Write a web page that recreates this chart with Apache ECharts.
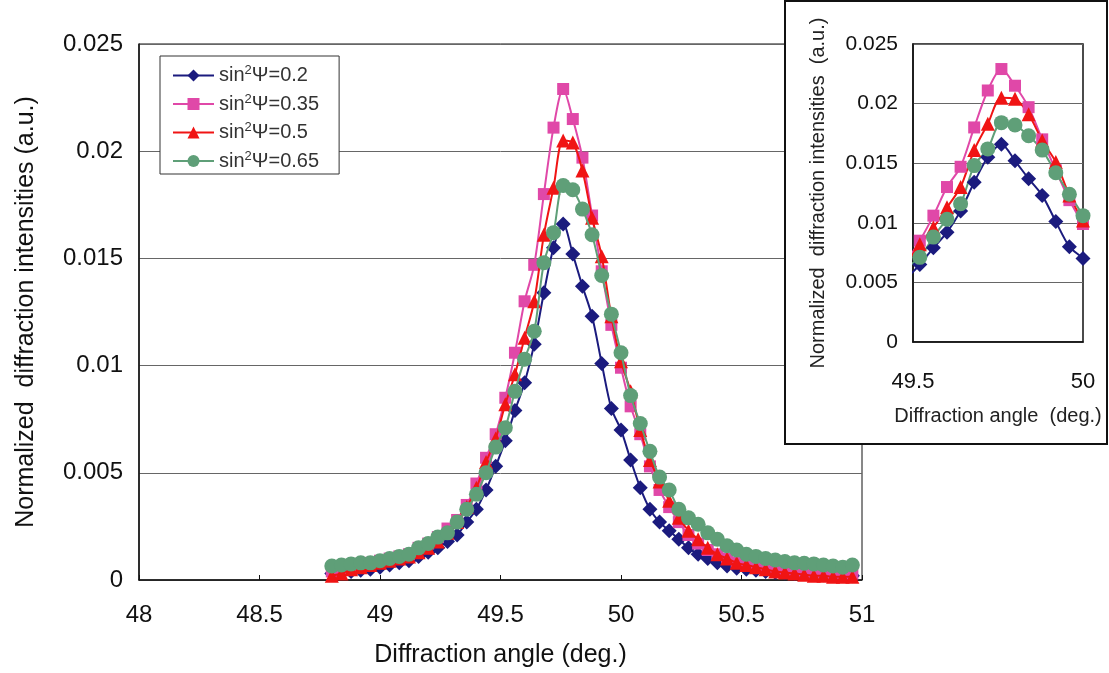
<!DOCTYPE html>
<html>
<head>
<meta charset="utf-8">
<script src="https://cdn.jsdelivr.net/npm/echarts@6/dist/echarts.min.js"></script>
<style>
  html, body { margin: 0; padding: 0; background: #fff; }
  #main { width: 1109px; height: 673px; }
</style>
</head>
<body>
<div id="main"></div>
<script>
var myChart = echarts.init(document.getElementById('main'));

// diffraction angle (deg.)
var angle = [48.80, 48.84, 48.88, 48.92, 48.96, 49.00, 49.04, 49.08, 49.12, 49.16,
    49.20, 49.24, 49.28, 49.32, 49.36, 49.40, 49.44, 49.48, 49.52, 49.56,
    49.60, 49.64, 49.68, 49.72, 49.76, 49.80, 49.84, 49.88, 49.92, 49.96,
    50.00, 50.04, 50.08, 50.12, 50.16, 50.20, 50.24, 50.28, 50.32, 50.36,
    50.40, 50.44, 50.48, 50.52, 50.56, 50.60, 50.64, 50.68, 50.72, 50.76,
    50.80, 50.84, 50.88, 50.92, 50.96];

var psiLabels = ['0.2', '0.35', '0.5', '0.65'];

var psi02 = [0.0003, 0.00035, 0.0004, 0.00045, 0.0005, 0.0006, 0.0007, 0.0008, 0.0009, 0.0011,
    0.0013, 0.0015, 0.0018, 0.0021, 0.0027, 0.0033, 0.0042, 0.0053, 0.0065, 0.0079,
    0.0092, 0.0110, 0.0134, 0.0155, 0.0166, 0.0152, 0.0137, 0.0123, 0.0101, 0.0080,
    0.0070, 0.0056, 0.0043, 0.0033, 0.0027, 0.0023, 0.0019, 0.0015, 0.0012, 0.0010,
    0.0008, 0.00065, 0.00055, 0.0005, 0.00045, 0.0004, 0.00035, 0.00033, 0.0003, 0.0003,
    0.00028, 0.00025, 0.00025, 0.00022, 0.0002];

var psi035 = [0.0004, 0.0005, 0.0006, 0.0007, 0.0008, 0.0009, 0.0010, 0.0011, 0.0012, 0.0015,
    0.0017, 0.0020, 0.0024, 0.0028, 0.0035, 0.0045, 0.0057, 0.0068, 0.0085, 0.0106,
    0.0130, 0.0147, 0.0180, 0.0211, 0.0229, 0.0215, 0.0197, 0.0170, 0.0144, 0.0119,
    0.0099, 0.0081, 0.0068, 0.0053, 0.0042, 0.0034, 0.0027, 0.0021, 0.0017, 0.0014,
    0.0012, 0.0010, 0.0008, 0.0007, 0.0006, 0.00055, 0.0005, 0.00045, 0.0004, 0.0004,
    0.00035, 0.00035, 0.0003, 0.0003, 0.0003];

var psi05 = [0.0002, 0.0003, 0.0005, 0.0006, 0.0007, 0.0008, 0.0009, 0.0010, 0.0011, 0.0013,
    0.0015, 0.0018, 0.0022, 0.0027, 0.0034, 0.0043, 0.0055, 0.0066, 0.0082, 0.0096,
    0.0113, 0.0130, 0.0161, 0.0183, 0.0205, 0.0204, 0.0191, 0.0169, 0.0151, 0.0123,
    0.0102, 0.0088, 0.0070, 0.0056, 0.0046, 0.0037, 0.0029, 0.0023, 0.0019, 0.0015,
    0.0012, 0.0010, 0.0008, 0.0007, 0.0006, 0.0005, 0.0004, 0.00035, 0.0003, 0.00025,
    0.0002, 0.0002, 0.00015, 0.00015, 0.00015];

var psi065 = [0.00065, 0.0007, 0.00075, 0.0008, 0.0008, 0.0009, 0.0010, 0.0011, 0.0012, 0.0015,
    0.0017, 0.0020, 0.0022, 0.0027, 0.0033, 0.0040, 0.0050, 0.0062, 0.0071, 0.0088,
    0.0103, 0.0116, 0.0148, 0.0162, 0.0184, 0.0182, 0.0173, 0.0161, 0.0142, 0.0124,
    0.0106, 0.0086, 0.0073, 0.0060, 0.0048, 0.0042, 0.0033, 0.0029, 0.0026, 0.0022,
    0.0019, 0.0016, 0.0014, 0.0012, 0.0011, 0.0010, 0.00093, 0.00086, 0.0008, 0.00078,
    0.00075, 0.0007, 0.00065, 0.0006, 0.0007];

var values = [psi02, psi035, psi05, psi065];
var colors = ['#1b1b7e', '#e048a8', '#f01414', '#5f9f78'];
var symbols = ['diamond', 'rect', 'triangle', 'circle'];
var sizes = [15, 12, 14, 15];
var names = psiLabels.map(function (p) { return 'sin²Ψ=' + p; });

function pairs(arr) {
    return arr.map(function (v, i) { return [angle[i], v]; });
}

var font = 'Liberation Sans, Arial, sans-serif';

var series = [];
// main chart and inset share the same data
[0, 1].forEach(function (g) {
    values.forEach(function (arr, k) {
        series.push({
            name: names[k],
            type: 'line',
            xAxisIndex: g,
            yAxisIndex: g,
            data: pairs(arr),
            smooth: 0.3,
            symbol: symbols[k],
            symbolSize: sizes[k],
            lineStyle: { color: colors[k], width: 2 },
            itemStyle: { color: colors[k] },
            z: g ? 20 : 2 + k,
            clip: true,
            animation: false
        });
    });
});

var option = {
    backgroundColor: '#fff',
    textStyle: { fontFamily: font },
    graphic: {
        elements: [{
            type: 'rect',
            z: 10,
            shape: { x: 785, y: 1, width: 322, height: 443 },
            style: { fill: '#fff', stroke: '#111', lineWidth: 2 }
        }]
    },
    legend: {
        data: names,
        orient: 'vertical',
        left: 160,
        top: 56,
        padding: [8, 20, 3, 12],
        itemGap: 7,
        itemWidth: 41,
        itemHeight: 15,
        backgroundColor: '#fff',
        borderColor: '#333',
        borderWidth: 1,
        z: 5,
        formatter: function (name) {
            return '{t|sin}{s|2}{t|' + name.split('²')[1] + '}';
        },
        textStyle: {
            rich: {
                t: { fontSize: 20, color: '#333', fontFamily: font, lineHeight: 23 },
                s: { fontSize: 13, color: '#333', fontFamily: font, verticalAlign: 'top', lineHeight: 13 }
            }
        }
    },
    grid: [
        { left: 139, right: 247, top: 44, bottom: 93, show: true, borderColor: '#111', borderWidth: 1 },
        { left: 913, right: 26, top: 44, bottom: 331, show: true, borderColor: '#111', borderWidth: 1.5, z: 15 }
    ],
    xAxis: [
        {
            type: 'value', gridIndex: 0, min: 48, max: 51, interval: 0.5,
            name: 'Diffraction angle (deg.)', nameLocation: 'middle', nameGap: 63,
            nameTextStyle: { fontSize: 25, color: '#111' },
            axisLine: { lineStyle: { color: '#111', width: 1.5 } },
            axisTick: { inside: true, length: 5, lineStyle: { color: '#111' } },
            axisLabel: { fontSize: 24, color: '#111', margin: 23 },
            splitLine: { show: false }
        },
        {
            type: 'value', gridIndex: 1, min: 49.5, max: 50, interval: 0.5, z: 15,
            name: 'Diffraction angle  (deg.)', nameLocation: 'middle', nameGap: 64,
            nameTextStyle: { fontSize: 20, color: '#222' },
            axisLine: { lineStyle: { color: '#111', width: 1.5 } },
            axisTick: { show: false },
            axisLabel: { fontSize: 22, color: '#111', margin: 29 },
            splitLine: { show: false }
        }
    ],
    yAxis: [
        {
            type: 'value', gridIndex: 0, min: 0, max: 0.025, interval: 0.005,
            name: 'Normalized  diffraction intensities (a.u.)', nameLocation: 'middle', nameGap: 100,
            nameTextStyle: { fontSize: 25, color: '#111' },
            axisLine: { show: true, lineStyle: { color: '#111', width: 1.5 } },
            axisTick: { show: false },
            axisLabel: { fontSize: 24, color: '#111', margin: 16 },
            splitLine: { lineStyle: { color: '#666', width: 1 } }
        },
        {
            type: 'value', gridIndex: 1, min: 0, max: 0.025, interval: 0.005, z: 15,
            name: 'Normalized  diffraction intensities  (a.u.)', nameLocation: 'middle', nameGap: 85,
            nameTextStyle: { fontSize: 20, color: '#222', padding: [0, 0, 0, 0] },
            axisLine: { show: true, lineStyle: { color: '#111', width: 1.5 } },
            axisTick: { show: false },
            axisLabel: { fontSize: 21, color: '#111', margin: 15 },
            splitLine: { lineStyle: { color: '#666', width: 1 } }
        }
    ],
    series: series
};

myChart.setOption(option);
</script>
</body>
</html>
